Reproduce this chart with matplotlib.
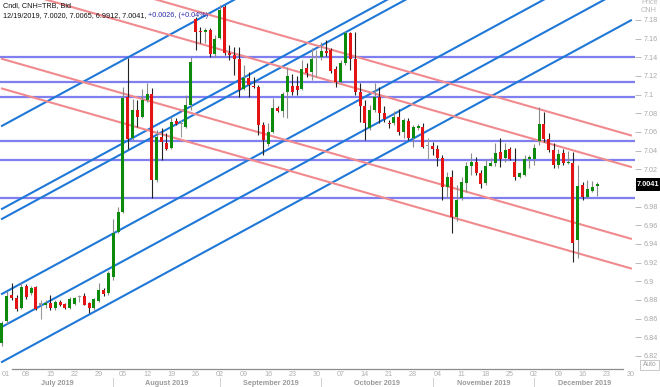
import matplotlib
matplotlib.use('Agg')
import matplotlib.pyplot as plt
from matplotlib.patches import Rectangle
import matplotlib.transforms as mtrans

plt.rcParams['font.family'] = ['Liberation Sans', 'DejaVu Sans']

# ---------------- data (trading-day index from Mon 1 Jul 2019) ----------------
opens = [6.834, 6.857, 6.885, 6.882, 6.871, 6.895, 6.887, 6.894, 6.875, 6.874,
         6.877, 6.871, 6.878, 6.876, 6.871, 6.876, 6.883, 6.884, 6.877, 6.871,
         6.879, 6.891, 6.887, 6.904, 6.953, 6.974, 7.097, 7.053, 7.083, 7.076,
         7.094, 7.101, 7.008, 7.055, 7.048, 7.043, 7.072, 7.068, 7.065, 7.089,
         7.181, 7.168, 7.167, 7.169, 7.143, 7.161, 7.194, 7.145, 7.142, 7.138,
         7.106, 7.118, 7.109, 7.108, 7.067, 7.047, 7.060, 7.086, 7.082, 7.103,
         7.109, 7.109, 7.106, 7.128, 7.124, 7.139, 7.140, 7.147, 7.148, 7.127,
         7.114, 7.134, 7.166, 7.138, 7.103, 7.088, 7.064, 7.084, 7.097, 7.080,
         7.070, 7.070, 7.076, 7.060, 7.072, 7.054, 7.064, 7.065, 7.045, 7.045,
         7.042, 7.032, 7.001, 7.012, 6.969, 6.989, 7.005, 7.023, 7.028, 7.016,
         7.005, 7.024, 7.027, 7.038, 7.032, 7.042, 7.028, 7.012, 7.014, 7.031,
         7.031, 7.050, 7.069, 7.052, 7.041, 7.025, 7.037, 7.027, 7.027, 6.944,
         7.003, 6.990, 6.997, 7.0020]
highs = [6.857, 6.889, 6.898, 6.885, 6.898, 6.897, 6.895, 6.895, 6.880, 6.880,
         6.885, 6.880, 6.880, 6.877, 6.883, 6.883, 6.885, 6.887, 6.878, 6.882,
         6.898, 6.893, 6.911, 6.967, 6.980, 7.108, 7.139, 7.095, 7.094, 7.106,
         7.112, 7.107, 7.062, 7.064, 7.059, 7.076, 7.075, 7.073, 7.100, 7.140,
         7.183, 7.172, 7.171, 7.171, 7.164, 7.196, 7.196, 7.153, 7.151, 7.151,
         7.132, 7.124, 7.119, 7.110, 7.071, 7.070, 7.096, 7.088, 7.103, 7.130,
         7.122, 7.120, 7.137, 7.134, 7.150, 7.148, 7.156, 7.159, 7.150, 7.131,
         7.137, 7.168, 7.167, 7.167, 7.112, 7.094, 7.089, 7.112, 7.108, 7.088,
         7.073, 7.082, 7.085, 7.075, 7.075, 7.067, 7.068, 7.070, 7.054, 7.049,
         7.046, 7.035, 7.017, 7.019, 7.003, 7.012, 7.028, 7.037, 7.033, 7.019,
         7.031, 7.032, 7.048, 7.053, 7.048, 7.044, 7.043, 7.017, 7.035, 7.035,
         7.047, 7.087, 7.081, 7.059, 7.048, 7.042, 7.042, 7.040, 7.039, 7.025,
         7.006, 7.008, 7.007, 7.0065]
lows = [6.831, 6.854, 6.880, 6.868, 6.870, 6.881, 6.885, 6.869, 6.860, 6.871,
        6.869, 6.869, 6.873, 6.870, 6.870, 6.875, 6.878, 6.874, 6.866, 6.869,
        6.878, 6.884, 6.885, 6.901, 6.952, 6.973, 7.042, 7.051, 7.065, 7.075,
        7.092, 6.989, 7.006, 7.030, 7.041, 7.042, 7.067, 7.055, 7.064, 7.083,
        7.148, 7.155, 7.155, 7.140, 7.140, 7.160, 7.142, 7.137, 7.121, 7.097,
        7.105, 7.097, 7.107, 7.057, 7.035, 7.045, 7.059, 7.081, 7.076, 7.075,
        7.100, 7.100, 7.105, 7.119, 7.116, 7.119, 7.137, 7.141, 7.123, 7.108,
        7.112, 7.132, 7.126, 7.100, 7.071, 7.051, 7.062, 7.081, 7.070, 7.071,
        7.064, 7.067, 7.057, 7.053, 7.051, 7.044, 7.062, 7.043, 7.031, 7.035,
        7.023, 6.987, 6.989, 6.952, 6.964, 6.987, 6.996, 7.014, 7.014, 7.000,
        7.003, 7.023, 7.024, 7.022, 7.028, 7.030, 7.008, 7.011, 7.013, 7.021,
        7.025, 7.046, 7.049, 7.039, 7.021, 7.021, 7.025, 7.026, 6.921, 6.925,
        6.987, 6.989, 6.996, 6.9912]
closes = [6.855, 6.884, 6.882, 6.870, 6.894, 6.883, 6.893, 6.870, 6.875, 6.877,
          6.871, 6.878, 6.874, 6.871, 6.881, 6.882, 6.883, 6.875, 6.871, 6.881,
          6.891, 6.886, 6.909, 6.952, 6.974, 7.096, 7.052, 7.083, 7.076, 7.094,
          7.101, 7.008, 7.055, 7.049, 7.042, 7.071, 7.069, 7.068, 7.089, 7.135,
          7.167, 7.167, 7.169, 7.144, 7.160, 7.191, 7.145, 7.142, 7.138, 7.105,
          7.118, 7.110, 7.108, 7.067, 7.051, 7.060, 7.086, 7.082, 7.101, 7.120,
          7.103, 7.105, 7.127, 7.123, 7.138, 7.139, 7.147, 7.145, 7.125, 7.114,
          7.134, 7.166, 7.138, 7.103, 7.088, 7.070, 7.084, 7.097, 7.080, 7.074,
          7.068, 7.076, 7.060, 7.073, 7.053, 7.065, 7.066, 7.044, 7.045, 7.042,
          7.032, 7.001, 7.012, 6.969, 6.987, 7.006, 7.023, 7.028, 7.016, 7.004,
          7.024, 7.027, 7.037, 7.031, 7.041, 7.031, 7.012, 7.016, 7.031, 7.033,
          7.043, 7.069, 7.052, 7.041, 7.025, 7.036, 7.027, 7.028, 6.941, 7.002,
          6.990, 6.999, 7.001, 7.0041]

# horizontal support / resistance levels
levels = [7.1403, 7.1135, 7.0975, 7.0503, 7.0294, 6.9892]
# rising (blue) channel lines: value at index 0 and at index 130
blue_start = [7.0665, 6.9775, 6.9668, 6.8864, 6.8511, 6.8135]
blue_end = [7.4326, 7.3436, 7.3329, 7.2525, 7.2172, 7.1796]
# falling (red) channel lines: value at index 0 and at index 130
pink_start = [7.2491, 7.2153, 7.1383, 7.1065]
pink_end = [7.0563, 7.0225, 6.9455, 6.9137]
line_x = [0, 130]

# x-axis labels (Mondays every 5 trading days)
day_labels = ['01', '08', '15', '22', '29', '05', '12', '19', '26', '02', '09', '16', '23', '30',
              '07', '14', '21', '28', '04', '11', '18', '25', '02', '09', '16', '23', '30']
month_names = ['July 2019', 'August 2019', 'September 2019', 'October 2019',
               'November 2019', 'December 2019']
month_start = [0, 23, 45, 66, 89, 110]

y_ticks = [7.18, 7.16, 7.14, 7.12, 7.10, 7.08, 7.06, 7.04, 7.02,
           6.98, 6.96, 6.94, 6.92, 6.90, 6.88, 6.86, 6.84, 6.82]
last_price = 7.0041

# ---------------- figure ----------------
W, H = 660, 387
fig = plt.figure(figsize=(W / 100, H / 100), dpi=100)
fig.patch.set_facecolor('white')
ax = fig.add_axes([0, 18 / H, 635 / W, 369 / H])
XMIN, XMAX = -0.413, 130.84
YMIN, YMAX = 6.8059, 7.2014
ax.set_xlim(XMIN, XMAX)
ax.set_ylim(YMIN, YMAX)
for s in ax.spines.values():
    s.set_visible(False)
ax.set_xticks([])

# levels and trend lines
for lv in levels:
    ax.axhline(lv, color='#7f7ff0', lw=1.6, zorder=1)
for a, b in zip(blue_start, blue_end):
    ax.plot(line_x, [a, b], color='#1f78d8', lw=1.5, zorder=1)
for a, b in zip(pink_start, pink_end):
    ax.plot(line_x, [a, b], color='#f08a8e', lw=1.5, zorder=1)

# candles
bw = 0.62
for i, (o, h, l, c) in enumerate(zip(opens, highs, lows, closes)):
    if c > o:
        col, wc = '#0c8a0c', '#8a8a8a'
    elif c < o:
        col, wc = '#e41414', '#222222'
    else:
        col, wc = '#999999', '#999999'
    ax.plot([i, i], [l, h], color=wc, lw=0.8, zorder=2, solid_capstyle='butt')
    bot = min(o, c)
    ht = max(abs(c - o), 0.0012)
    ax.add_patch(Rectangle((i - bw / 2, bot), bw, ht, facecolor=col, edgecolor='none', zorder=3))

# right price axis
ax.yaxis.tick_right()
ax.set_yticks(y_ticks)
ax.set_yticklabels(['%g' % v for v in y_ticks])
ax.tick_params(axis='y', direction='out', length=4, width=0.6, color='#b0b0b0',
               labelcolor='#a8a8a8', labelsize=5.2, pad=2)

# bottom axis line & labels
ax.plot([12 / 635, 623 / 635], [0, 0], transform=ax.transAxes, color='#8c8c8c',
        lw=0.9, clip_on=False, zorder=5)
bt = mtrans.blended_transform_factory(ax.transData, ax.transAxes)
for k, lab in enumerate(day_labels):
    x = max(k * 5, 0.75)
    ax.text(x, -6 / 369, lab, transform=bt, ha='center', va='center',
            fontsize=5.2, color='#b0b0b0', clip_on=False)
bounds = month_start + [XMAX]
for k, name in enumerate(month_names):
    cx = (max(bounds[k], XMIN) + bounds[k + 1]) / 2
    ax.text(cx, -14.5 / 369, name, transform=bt, ha='center', va='center',
            fontsize=5.2, color='#9a9a9a', fontweight='bold', clip_on=False)
for ms in month_start[1:]:
    ax.plot([ms, ms], [-9 / 369, -18 / 369], transform=bt, color='#d0d0d0',
            lw=0.7, clip_on=False)

# header
fig.text(3 / W, 1 - 2 / H, 'Cndl, CNH=TRB, Bid', fontsize=5.2, color='#111111',
         va='top', ha='left')
t1 = fig.text(3 / W, 1 - 12 / H, '12/19/2019, 7.0020, 7.0065, 6.9912, 7.0041, ',
              fontsize=5.2, color='#111111', va='top', ha='left')
fig.canvas.draw()
bb = t1.get_window_extent()
fig.text(bb.x1 / W, 1 - 12 / H, '+0.0026, (+0.04%)', fontsize=5.2, color='#2a2aa8',
         va='top', ha='left')

# top-right axis title
fig.text(641 / W, 1 + 1 / H, 'Price', fontsize=5.2, color='#b8b8b8', va='top', ha='left')
fig.text(641 / W, 1 - 7 / H, 'CNH', fontsize=5.2, color='#b8b8b8', va='top', ha='left')

# last price box
py = 387 - (18 + (last_price - YMIN) / (YMAX - YMIN) * 369)
fig.patches.append(Rectangle((636 / W, 1 - (py + 6.5) / H), 24 / W, 13 / H,
                             transform=fig.transFigure, facecolor='black',
                             edgecolor='none', zorder=10))
fig.text(637 / W, 1 - py / H, '%.4f' % last_price, fontsize=5.3, color='white',
         fontweight='bold', va='center', ha='left', zorder=11)

# Auto box
fig.patches.append(Rectangle((640 / W, 1 - 370 / H), 19 / W, 10 / H,
                             transform=fig.transFigure, facecolor='white',
                             edgecolor='#c8c8c8', lw=0.7, zorder=10))
fig.text(649.5 / W, 1 - 365 / H, 'Auto', fontsize=4.8, color='#a0a0a0',
         va='center', ha='center', zorder=11)

fig.savefig('out.png', dpi=100, facecolor='white')
